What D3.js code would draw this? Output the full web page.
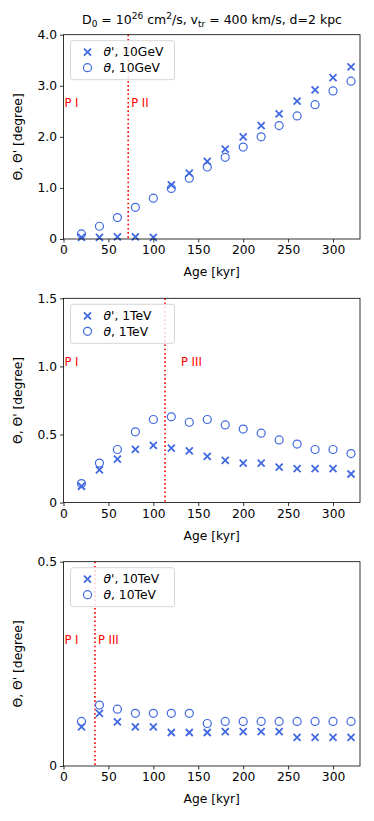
<!DOCTYPE html>
<html><head><meta charset="utf-8">
<script src="https://cdn.jsdelivr.net/npm/d3@7"></script>
<style>body{margin:0;background:#fff;} text{font-family:"DejaVu Sans",sans-serif;}</style>
</head><body>
<svg id="chart" width="374" height="821"></svg>
<script>
const ages = [20,40,60,80,100,120,140,160,180,200,220,240,260,280,300,320];
const thetaP_10GeV = [0.03,0.03,0.04,0.04,0.03,1.06,1.29,1.52,1.76,2.00,2.22,2.45,2.70,2.92,3.16,3.37];
const theta_10GeV  = [0.10,0.25,0.42,0.62,0.80,0.99,1.19,1.41,1.60,1.80,2.00,2.22,2.41,2.63,2.90,3.09];
const thetaP_1TeV  = [0.12,0.24,0.32,0.39,0.42,0.40,0.38,0.34,0.31,0.29,0.29,0.26,0.25,0.25,0.25,0.21];
const theta_1TeV   = [0.14,0.29,0.39,0.52,0.61,0.63,0.59,0.61,0.57,0.54,0.51,0.46,0.43,0.39,0.39,0.36];
const thetaP_10TeV = [0.096,0.129,0.108,0.096,0.096,0.082,0.082,0.082,0.084,0.084,0.084,0.084,0.070,0.070,0.070,0.070];
const theta_10TeV  = [0.109,0.149,0.139,0.129,0.129,0.129,0.129,0.104,0.109,0.109,0.109,0.109,0.109,0.109,0.109,0.109];
const xTicks = [0,50,100,150,200,250,300];
const yTicks1 = [0,1,2,3,4], yTickLabels1 = ["0","1.0","2.0","3.0","4.0"];
const yTicks2 = [0,0.5,1,1.5], yTickLabels2 = ["0","0.5","1.0","1.5"];
const yTicks3 = [0,0.5], yTickLabels3 = ["0","0.5"];
const energies = ["10GeV","1TeV","10TeV"];
const transitions = [72,113,35];
const phaseLabels = [["P I","P II"],["P I","P III"],["P I","P III"]];
const phaseLabelY = [2.67,1.03,0.308];
const yMax = [4,1.5,0.5];

const panels = [
  {tp:thetaP_10GeV, t:theta_10GeV, ticks:yTicks1, labels:yTickLabels1},
  {tp:thetaP_1TeV, t:theta_1TeV, ticks:yTicks2, labels:yTickLabels2},
  {tp:thetaP_10TeV, t:theta_10TeV, ticks:yTicks3, labels:yTickLabels3}
];
const tops = [34.7, 298.3, 561.7];
const H = 204.3, L = 63.5, R = 360;
const blue = "#4169E1";
const FS = 12.3;
const svg = d3.select("#chart");

// title
const title = svg.append("text").attr("x",212).attr("y",24).attr("text-anchor","middle").attr("font-size",12.5);
title.append("tspan").text("D");
title.append("tspan").attr("font-size",9).attr("dy",3).text("0");
title.append("tspan").attr("dy",-3).text(" = 10");
title.append("tspan").attr("font-size",9).attr("dy",-5).text("26");
title.append("tspan").attr("dy",5).text(" cm");
title.append("tspan").attr("font-size",9).attr("dy",-5).text("2");
title.append("tspan").attr("dy",5).text("/s, v");
title.append("tspan").attr("font-size",9).attr("dy",3).text("tr");
title.append("tspan").attr("dy",-3).text(" = 400 km/s, d=2 kpc");

panels.forEach((p,i)=>{
  const top = tops[i], bottom = top+H;
  const x = d3.scaleLinear().domain([0,330]).range([L,R]);
  const y = d3.scaleLinear().domain([0,yMax[i]]).range([bottom,top]);
  const g = svg.append("g");

  // transition line
  g.append("line").attr("x1",x(transitions[i])).attr("x2",x(transitions[i]))
    .attr("y1",top).attr("y2",bottom).attr("stroke","red").attr("stroke-width",1.6)
    .attr("stroke-dasharray","1.6,2.6");

  // phase labels
  g.append("text").attr("x",x(1)).attr("y",y(phaseLabelY[i])).attr("dy","0.35em")
    .attr("fill","red").attr("font-size",11.5).text(phaseLabels[i][0]);
  g.append("text").attr("x",x(transitions[i]) + (i===1?16:3)).attr("y",y(phaseLabelY[i])).attr("dy","0.35em")
    .attr("fill","red").attr("font-size",11.5).text(phaseLabels[i][1]);

  // markers
  const s = 3.5;
  ages.forEach((a,k)=>{
    const cx = x(a), cy = y(p.tp[k]);
    g.append("path").attr("d",`M${cx-s},${cy-s}L${cx+s},${cy+s}M${cx-s},${cy+s}L${cx+s},${cy-s}`)
      .attr("stroke",blue).attr("stroke-width",1.8).attr("fill","none");
  });
  ages.forEach((a,k)=>{
    g.append("circle").attr("cx",x(a)).attr("cy",y(p.t[k])).attr("r",4)
      .attr("fill","none").attr("stroke",blue).attr("stroke-width",1.2);
  });

  // axes
  g.append("g").attr("transform",`translate(0,${bottom})`)
    .call(d3.axisBottom(x).tickValues(xTicks).tickSize(3.5).tickPadding(3).tickFormat(d3.format("d")))
    .call(a=>{a.select(".domain").remove(); a.selectAll("text").attr("font-size",FS).attr("font-family","DejaVu Sans"); a.selectAll("line").attr("stroke-width",0.8);});
  g.append("g").attr("transform",`translate(${L},0)`)
    .call(d3.axisLeft(y).tickValues(p.ticks).tickSize(3.5).tickPadding(3).tickFormat((d,j)=>p.labels[j]))
    .call(a=>{a.select(".domain").remove(); a.selectAll("text").attr("font-size",FS).attr("font-family","DejaVu Sans"); a.selectAll("line").attr("stroke-width",0.8);});
  g.append("rect").attr("x",L).attr("y",top).attr("width",R-L).attr("height",H)
    .attr("fill","none").attr("stroke","#000").attr("stroke-width",0.8);

  // axis labels
  g.append("text").attr("x",(L+R)/2).attr("y",bottom+37).attr("text-anchor","middle").attr("font-size",FS).text("Age [kyr]");
  g.append("text").attr("transform",`translate(22,${(top+bottom)/2}) rotate(-90)`).attr("text-anchor","middle")
    .attr("font-size",FS).text("Θ, Θ' [degree]");

  // legend
  const lg = g.append("g").attr("transform",`translate(${L+7},${top+6})`);
  lg.append("rect").attr("width",104).attr("height",39).attr("rx",2.5).attr("fill","white").attr("fill-opacity",0.8)
    .attr("stroke","#ccc").attr("stroke-width",0.8);
  const mx = 17, r1 = 11.5, r2 = 27;
  lg.append("path").attr("d",`M${mx-s},${r1-s}L${mx+s},${r1+s}M${mx-s},${r1+s}L${mx+s},${r1-s}`)
    .attr("stroke",blue).attr("stroke-width",1.8);
  lg.append("circle").attr("cx",mx).attr("cy",r2).attr("r",4).attr("fill","none").attr("stroke",blue).attr("stroke-width",1.2);
  [[r1,"θ'"],[r2,"θ"]].forEach(([ry,sym])=>{
    const t = lg.append("text").attr("x",33).attr("y",ry).attr("dy","0.35em").attr("font-size",FS);
    t.append("tspan").attr("font-style","italic").text(sym);
    t.append("tspan").text(", "+energies[i]);
  });
});
</script>
</body></html>
